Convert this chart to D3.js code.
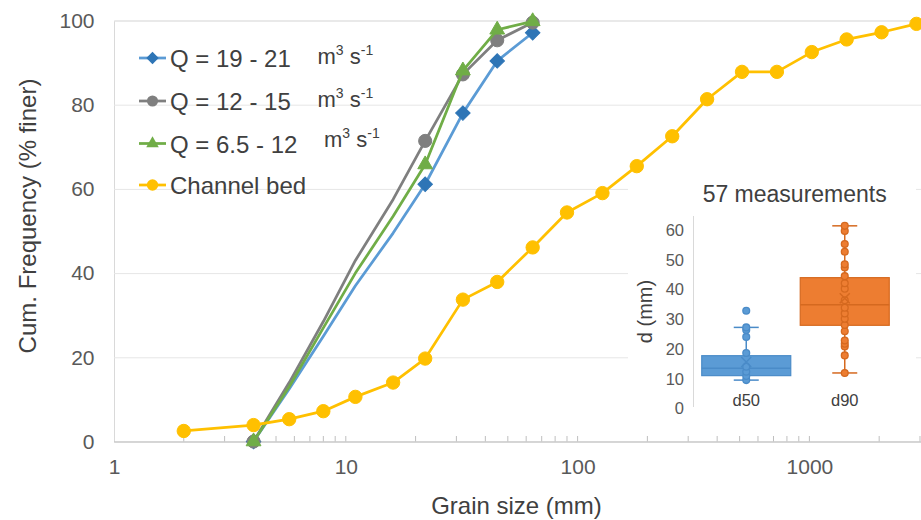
<!DOCTYPE html>
<html>
<head>
<meta charset="utf-8">
<script src="https://cdn.jsdelivr.net/npm/d3@7"></script>
<style>
  html, body { margin: 0; padding: 0; background: #fff; }
  svg { display: block; font-family: "Liberation Sans", Arial, sans-serif; }
</style>
</head>
<body>
<svg id="chart" width="921" height="520"></svg>
<script>
// ---- Grain size distributions (cumulative % finer) ----
const qSizes     = [4, 5.7, 8, 11, 16, 22, 32, 45, 64];
const q19to21    = [0, 12.5, 25, 37, 49.5, 61.1, 78.0, 90.4, 97.1];
const q12to15    = [0, 14, 28.5, 43, 57.5, 71.4, 87.2, 95.3, 99.5];
const q6p5to12   = [0, 13, 27, 40, 53.5, 65.8, 88.1, 97.8, 99.8];
const markedSizes = [4, 22, 32, 45, 64];

const bedSizes   = [2, 4, 5.7, 8, 11, 16, 22, 32, 45, 64, 90, 128, 180, 256, 362, 512, 724, 1024, 1448, 2048, 2896];
const bedFiner   = [2.5, 3.9, 5.3, 7.2, 10.6, 14.0, 19.7, 33.7, 37.9, 46.1, 54.4, 59.0, 65.4, 72.5, 81.3, 87.8, 87.8, 92.5, 95.5, 97.2, 99.2];

const seriesNames = ["Q = 19 - 21", "Q = 12 - 15", "Q = 6.5 - 12", "Channel bed"];
const xTickValues = [1, 10, 100, 1000];
const yTickValues = [0, 20, 40, 60, 80, 100];

// ---- Inset: d50 / d90 from 57 measurements ----
const boxCategories = ["d50", "d90"];
const boxWhiskerLow  = [9.6, 12.0];
const boxQ1          = [11.1, 28.0];
const boxMedian      = [13.6, 34.9];
const boxQ3          = [17.8, 44.0];
const boxWhiskerHigh = [27.3, 61.4];
const boxMean        = [15.7, 37.1];
const d50Points = [9.6, 11.0, 12.4, 14.1, 18.7, 24.1, 26.4, 27.3, 32.9];
const d90Points = [12.0, 17.9, 20.9, 21.8, 22.9, 26.0, 28.1, 30.2, 32.0, 33.9, 36.4, 40.3, 42.1, 44.5, 47.4, 48.5, 52.7, 55.3, 59.7, 61.4];
const insetTicks = [0, 10, 20, 30, 40, 50, 60];

const svg = d3.select("#chart");
const W = 921, H = 520;
const TEXT = "#404040", TICK = "#595959";

// ---- scales ----
const x = d3.scaleLog().domain([1, 10000]).range([114, 114 + 4 * 231.8]);
const y = d3.scaleLinear().domain([0, 100]).range([441.5, 20.5]);
const plotRight = W;

// ---- gridlines + y axis ----
const yAxis = d3.axisLeft(y).tickValues(yTickValues).tickSize(-(plotRight - 114)).tickPadding(19.5).tickFormat(d3.format("d"));
const gy = svg.append("g").attr("transform", "translate(114,0)").call(yAxis);
gy.select(".domain").attr("stroke", "#d9d9d9");
gy.selectAll(".tick line").attr("stroke", d => d === 0 ? "#bfbfbf" : "#e6e6e6").attr("stroke-width", 1);
gy.selectAll(".tick text").attr("fill", TICK).style("font-size", "21px").attr("font-family", null);

// ---- x axis ----
const xAxis = d3.axisBottom(x).tickValues(xTickValues).tickSize(0).tickPadding(17.5).tickFormat(d3.format("d"));
const gx = svg.append("g").attr("transform", "translate(0,441.5)").call(xAxis);
gx.select(".domain").remove();
gx.selectAll(".tick text").attr("fill", TICK).style("font-size", "21px").attr("font-family", null);

// minor log ticks pointing into the plot
const minor = x.ticks().filter(v => x(v) <= plotRight && v > 1);
svg.append("g").selectAll("line").data(minor).join("line")
  .attr("x1", d => x(d)).attr("x2", d => x(d))
  .attr("y1", 441.5).attr("y2", 436)
  .attr("stroke", "#bfbfbf").attr("stroke-width", 1);

// ---- axis titles ----
svg.append("text")
  .attr("transform", "translate(36,216) rotate(-90)")
  .attr("text-anchor", "middle").attr("fill", TEXT).style("font-size", "24px")
  .text("Cum. Frequency (% finer)");
svg.append("text")
  .attr("x", 516.5).attr("y", 514)
  .attr("text-anchor", "middle").attr("fill", TEXT).style("font-size", "24px")
  .text("Grain size (mm)");

// ---- inset background (drawn before the series so lines stay on top) ----
svg.append("rect").attr("x", 628).attr("y", 166).attr("width", 288).attr("height", 258).attr("fill", "#fff");

// ---- marker shapes ----
const shapes = {
  diamond: d3.symbol().type(d3.symbolSquare).size(105),
  circle: d3.symbol().type(d3.symbolCircle).size(135),
  triangle: d3.symbol().type(d3.symbolTriangle).size(95),
  bed: d3.symbol().type(d3.symbolCircle).size(140)
};

const series = [
  { name: seriesNames[0], sizes: qSizes, values: q19to21, line: "#5B9BD5", fill: "#2E75B6", shape: "diamond", rot: 45, marked: markedSizes },
  { name: seriesNames[1], sizes: qSizes, values: q12to15, line: "#7F7F7F", fill: "#7F7F7F", shape: "circle", rot: 0, marked: markedSizes },
  { name: seriesNames[2], sizes: qSizes, values: q6p5to12, line: "#70AD47", fill: "#70AD47", shape: "triangle", rot: 0, marked: markedSizes },
  { name: seriesNames[3], sizes: bedSizes, values: bedFiner, line: "#FFC000", fill: "#FFC000", shape: "bed", rot: 0, marked: bedSizes }
];

const line = d3.line().x(d => x(d.size)).y(d => y(d.v));

series.forEach(s => {
  const pts = s.sizes.map((size, i) => ({ size, v: s.values[i] }));
  const g = svg.append("g");
  g.append("path").datum(pts).attr("d", line)
    .attr("fill", "none").attr("stroke", s.line).attr("stroke-width", 2.75).attr("stroke-linejoin", "round");
  g.selectAll("path.mk").data(pts.filter(p => s.marked.includes(p.size))).join("path")
    .attr("class", "mk")
    .attr("d", shapes[s.shape])
    .attr("transform", p => `translate(${x(p.size)},${y(p.v)}) rotate(${s.rot})`)
    .attr("fill", s.fill).attr("stroke", s.fill).attr("stroke-width", 1);
});

// ---- legend ----
const legendRows = [58, 101, 143.5, 185];
const legend = svg.append("g");
series.forEach((s, i) => {
  const cy = legendRows[i];
  legend.append("line").attr("x1", 139).attr("x2", 166).attr("y1", cy).attr("y2", cy)
    .attr("stroke", s.line).attr("stroke-width", 2.75);
  legend.append("path").attr("d", shapes[s.shape])
    .attr("transform", `translate(152.5,${cy}) rotate(${s.rot}) scale(0.85)`)
    .attr("fill", s.fill);
  legend.append("text").attr("x", 170).attr("y", cy + 9)
    .attr("fill", TEXT).style("font-size", "24px").text(s.name);
});
const unitX = [317.5, 317.5, 324];
const unitY = [64, 106.7, 147.3];
unitX.forEach((ux, i) => {
  const t = legend.append("text").attr("x", ux).attr("y", unitY[i])
    .attr("fill", TEXT).style("font-size", "22px");
  t.append("tspan").text("m");
  t.append("tspan").attr("dy", -9).style("font-size", "14px").text("3");
  t.append("tspan").attr("dy", 9).text(" s");
  t.append("tspan").attr("dy", -9).style("font-size", "14px").text("-1");
});

// ---- inset box plot ----
const iy = d3.scaleLinear().domain([0, 60]).range([408.7, 230]);
const ix = d3.scaleBand().domain(boxCategories).range([697, 894]).paddingInner(0.0964).paddingOuter(0.0482);
const inset = svg.append("g");

inset.append("text").attr("x", 794.7).attr("y", 202)
  .attr("text-anchor", "middle").attr("fill", TEXT).style("font-size", "23px")
  .text("57 measurements");

const iAxis = d3.axisLeft(iy).tickValues(insetTicks).tickSize(0).tickPadding(9.5).tickFormat(d3.format("d"));
const giy = inset.append("g").attr("transform", "translate(693.5,0)").call(iAxis);
giy.select(".domain").remove();
giy.selectAll(".tick text").attr("fill", TICK).style("font-size", "16.5px").attr("font-family", null);
inset.append("line").attr("x1", 693.5).attr("x2", 693.5).attr("y1", 216).attr("y2", 407)
  .attr("stroke", "#d9d9d9");

inset.append("text")
  .attr("transform", "translate(652,311.5) rotate(-90)")
  .attr("text-anchor", "middle").attr("fill", TEXT).style("font-size", "20px")
  .text("d (mm)");

const boxFill = ["#5B9BD5", "#ED7D31"];
const boxEdge = ["#4A8BC8", "#D5691F"];
const boxPoints = [d50Points, d90Points];

boxCategories.forEach((c, i) => {
  const x0 = ix(c), bw = ix.bandwidth(), cx = x0 + bw / 2;
  const g = inset.append("g");
  // whiskers
  g.append("line").attr("x1", cx).attr("x2", cx).attr("y1", iy(boxWhiskerLow[i])).attr("y2", iy(boxWhiskerHigh[i]))
    .attr("stroke", boxEdge[i]).attr("stroke-width", 1.5);
  [boxWhiskerLow[i], boxWhiskerHigh[i]].forEach(v => {
    g.append("line").attr("x1", cx - 12.5).attr("x2", cx + 12.5).attr("y1", iy(v)).attr("y2", iy(v))
      .attr("stroke", boxEdge[i]).attr("stroke-width", 1.5);
  });
  // box
  g.append("rect").attr("x", x0).attr("width", bw)
    .attr("y", iy(boxQ3[i])).attr("height", iy(boxQ1[i]) - iy(boxQ3[i]))
    .attr("fill", boxFill[i]).attr("stroke", boxEdge[i]).attr("stroke-width", 1.2);
  g.append("line").attr("x1", x0).attr("x2", x0 + bw).attr("y1", iy(boxMedian[i])).attr("y2", iy(boxMedian[i]))
    .attr("stroke", boxEdge[i]).attr("stroke-width", 1.5);
  // inner points
  g.selectAll("circle").data(boxPoints[i]).join("circle")
    .attr("cx", cx).attr("cy", d => iy(d)).attr("r", 3.4)
    .attr("fill", boxFill[i]).attr("stroke", boxEdge[i]).attr("stroke-width", 1.3);
  // mean marker
  const my = iy(boxMean[i]), m = 5;
  g.append("path").attr("d", `M${cx - m},${my - m}L${cx + m},${my + m}M${cx - m},${my + m}L${cx + m},${my - m}`)
    .attr("stroke", boxEdge[i]).attr("stroke-width", 1.5);
  // category label
  inset.append("text").attr("x", cx).attr("y", 405.7).attr("text-anchor", "middle")
    .attr("fill", TEXT).style("font-size", "16.5px").text(c);
});
</script>
</body>
</html>
